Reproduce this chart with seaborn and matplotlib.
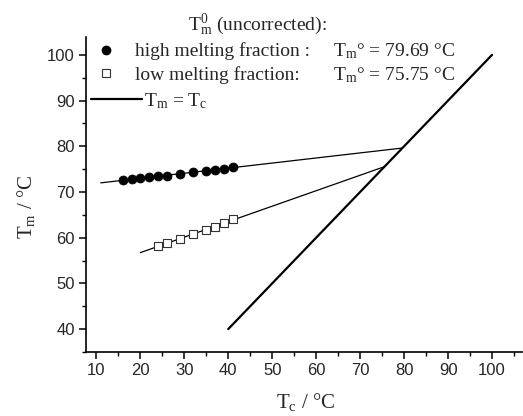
import numpy as np
import pandas as pd
import matplotlib
matplotlib.use("Agg")
import matplotlib.pyplot as plt
import seaborn as sns
from matplotlib.lines import Line2D

# Hoffman-Weeks data
tc_high = [16, 18, 20, 22, 24, 26, 29, 32, 35, 37, 39, 41]
tm_high = [72.6, 72.8, 73.0, 73.2, 73.4, 73.6, 74.0, 74.3, 74.6, 74.9, 75.1, 75.4]
tc_low = [24, 26, 29, 32, 35, 37, 39, 41]
tm_low = [58.2, 58.8, 59.7, 60.7, 61.7, 62.4, 63.2, 64.0]
fit_start = [11, 20]          # where each fitted line begins
tm0_labels = ["79.69", "75.75"]
diag_x = [40, 100]

sns.set_style("ticks")
plt.rcParams["font.family"] = ["Liberation Serif", "DejaVu Serif"]
plt.rcParams["mathtext.fontset"] = "custom"
plt.rcParams["mathtext.rm"] = "Liberation Serif"
plt.rcParams["mathtext.it"] = "Liberation Serif"

fig = plt.figure(figsize=(5.23, 4.16), dpi=100, facecolor="white")
ax = fig.add_axes([0.164, 0.154, 0.834, 0.757])

df_high = pd.DataFrame({"Tc": tc_high, "Tm": tm_high})
df_low = pd.DataFrame({"Tc": tc_low, "Tm": tm_low})

# linear fits extrapolated to Tm = Tc
for df, x0 in zip([df_high, df_low], fit_start):
    m, b = np.polyfit(df["Tc"], df["Tm"], 1)
    x1 = b / (1 - m)
    xs = np.array([x0, x1])
    sns.lineplot(x=xs, y=m * xs + b, color="black", linewidth=0.9, ax=ax)

sns.lineplot(x=diag_x, y=diag_x, color="black", linewidth=1.6, ax=ax)

sns.scatterplot(data=df_high, x="Tc", y="Tm", marker="o", s=42,
                color="black", edgecolor="black", zorder=3, ax=ax)
sns.scatterplot(data=df_low, x="Tc", y="Tm", marker="s", s=30,
                facecolor="white", edgecolor="#333333", linewidth=0.8,
                zorder=3, ax=ax)

ax.set_xlim(7.6, 106.8)
ax.set_ylim(35.2, 103.9)
ax.set_xticks(range(10, 101, 10))
ax.set_yticks(range(40, 101, 10))
ax.set_xticks(range(15, 106, 10), minor=True)
ax.set_yticks(range(35, 104, 10), minor=True)
sns.despine(ax=ax)
for sp in ["left", "bottom"]:
    ax.spines[sp].set_linewidth(1.2)
    ax.spines[sp].set_color("black")
ax.tick_params(which="major", direction="out", length=5, width=1.1,
               color="black", labelsize=12, pad=3)
ax.tick_params(which="minor", direction="out", length=3, width=1.0, color="black")
for lab in ax.get_xticklabels() + ax.get_yticklabels():
    lab.set_family("Liberation Sans")

ax.set_xlabel("T$_\\mathrm{c}$ / °C", fontsize=15)
ax.set_ylabel("T$_\\mathrm{m}$ / °C", fontsize=15)
ax.xaxis.set_label_coords(0.503, -0.125)
ax.yaxis.set_label_coords(-0.112, 0.46)

# legend
W, H = 523.0, 416.0
FS = 14
fig.text(257 / W, 1 - 25 / H, "T$_\\mathrm{m}^\\mathrm{0}$ (uncorrected):",
         ha="center", va="center", fontsize=FS)

h_high = Line2D([], [], marker="o", linestyle="none", color="black", markersize=6)
h_low = Line2D([], [], marker="s", linestyle="none", markerfacecolor="white",
               markeredgecolor="#333333", markeredgewidth=0.8, markersize=5.5)
leg1 = ax.legend([h_high, h_low], ["high melting fraction :", "low melting fraction:"],
                 loc="upper left", bbox_to_anchor=(96 / W, 1 - 42.5 / H),
                 bbox_transform=fig.transFigure, frameon=False, fontsize=FS,
                 handlelength=1.0, handletextpad=1.0, labelspacing=0.3,
                 borderpad=0, borderaxespad=0)
ax.add_artist(leg1)
h_line = Line2D([], [], color="black", linewidth=1.6)
ax.legend([h_line], ["T$_\\mathrm{m}$ = T$_\\mathrm{c}$"],
          loc="upper left", bbox_to_anchor=(91 / W, 1 - 91 / H),
          bbox_transform=fig.transFigure, frameon=False, fontsize=FS,
          handlelength=2.6, handletextpad=0.1, borderpad=0, borderaxespad=0)

for i, val in enumerate(tm0_labels):
    fig.text(333 / W, 1 - (51 + 24 * i) / H,
             "T$_\\mathrm{m}$° = " + val + " °C",
             ha="left", va="center", fontsize=FS)

fig.savefig("out.png", dpi=100, facecolor="white")
